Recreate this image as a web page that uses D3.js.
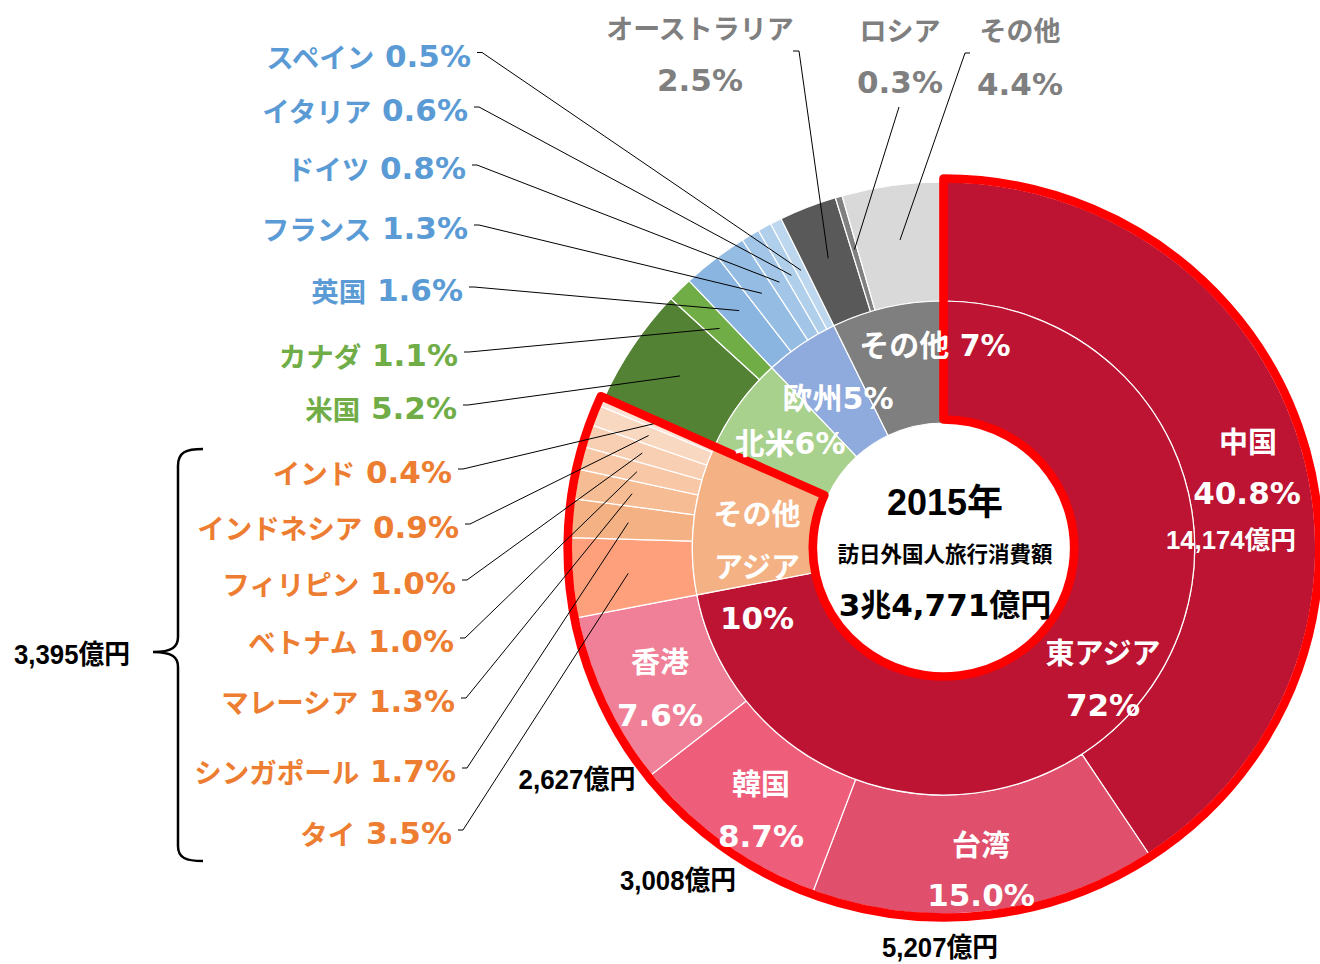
<!DOCTYPE html>
<html><head><meta charset="utf-8">
<script src="https://cdn.jsdelivr.net/npm/d3@7"></script>
<style>body{margin:0;background:#fff}svg{display:block}</style>
</head><body>
<svg id="chart" width="1320" height="964"></svg>
<script>
// ---- data ----
const countries = ["中国","台湾","韓国","香港","タイ","シンガポール","マレーシア","ベトナム","フィリピン","インドネシア","インド","米国","カナダ","英国","フランス","ドイツ","イタリア","スペイン","オーストラリア","ロシア","その他"];
const countryShares = [40.8,15.0,8.7,7.6,3.5,1.7,1.3,1.0,1.0,0.9,0.4,5.2,1.1,1.6,1.3,0.8,0.6,0.5,2.5,0.3,4.4];
const countryRegion = ["東アジア","東アジア","東アジア","東アジア","その他アジア","その他アジア","その他アジア","その他アジア","その他アジア","その他アジア","その他アジア","北米","北米","欧州","欧州","欧州","欧州","欧州","その他","その他","その他"];
const regions = ["東アジア","その他アジア","北米","欧州","その他"];
const regionShares = [72,10,6,5,7];
const amountNames = ["中国","台湾","韓国","香港","その他アジア"];
const amountOku = ["14,174","5,207","3,008","2,627","3,395"];
const totalLabel = "3兆4,771億円";
const yearLabel = "2015年";
const titleLabel = "訪日外国人旅行消費額";

// ---- styles ----
const countryColors = ["#BC1432","#E0506C","#EE5E7B","#F08097","#FFA07C","#F4B183","#F6BD95","#F7C7A6","#F8CFB3","#F9D8C1","#FBE2D3","#548235","#70AD47","#8AB5E0","#95BCE3","#A3C6E8","#B0CFEB","#BDD7EE","#595959","#808080","#D9D9D9"];
const regionColors = ["#BC1432","#F4B183","#A9D18E","#8FAADC","#7F7F7F"];
const regionTextColors = {"東アジア":"#fff","その他アジア":"#ED7D31","北米":"#70AD47","欧州":"#5B9BD5","その他":"#7F7F7F"};

const svg = d3.select("#chart");
const cx = 943.5, cy = 548, sx = 1.017;
const R_HOLE = 125, R_MID = 247, R_OUT = 366, R_LEAD = 311;
const NUMF = "'DejaVu Sans','Noto Sans CJK JP',sans-serif";
const CJKF = "'Noto Sans CJK JP','DejaVu Sans',sans-serif";
const NARROW = "'Liberation Sans Narrow','Liberation Sans','Noto Sans CJK JP',sans-serif";

const pie = d3.pie().sort(null).value(d => d.value);
const outerData = countries.map((n,i) => ({name:n, value:countryShares[i], region:countryRegion[i], color:countryColors[i]}));
const outerArcs = pie(outerData);
const innerData = regions.map((r,i) => ({name:r, value:d3.sum(outerData.filter(d => d.region === r), d => d.value), label:regionShares[i], color:regionColors[i]}));
const innerArcs = pie(innerData);

const arcOuter = d3.arc().innerRadius(R_MID).outerRadius(R_OUT);
const arcInner = d3.arc().innerRadius(R_HOLE).outerRadius(R_MID);
const arcLead = d3.arc().innerRadius(R_LEAD).outerRadius(R_LEAD);

const g = svg.append("g").attr("transform", `translate(${cx},${cy}) scale(${sx},1)`);
g.selectAll("path.outer").data(outerArcs).join("path").attr("class","outer")
  .attr("d", arcOuter).attr("fill", d => d.data.color).attr("stroke","#fff").attr("stroke-width",1.2);
g.selectAll("path.inner").data(innerArcs).join("path").attr("class","inner")
  .attr("d", arcInner).attr("fill", d => d.data.color).attr("stroke","#fff").attr("stroke-width",1.2);

function screen(p){ return [cx + p[0]*sx, cy + p[1]]; }
const byName = {}; outerArcs.forEach(a => byName[a.data.name] = a);

// ---- ring labels (white) ----
function wtext(x, y, str, size, fam, fill){
  return svg.append("text").attr("x",x).attr("y",y).attr("text-anchor","middle")
    .attr("dominant-baseline","central").attr("font-family",fam).attr("font-weight","bold")
    .attr("font-size",size).attr("fill",fill||"#fff").text(str);
}
const pct = v => v.toFixed(1) + "%";
wtext(1248, 440, "中国", 29, CJKF);
wtext(1247, 493, pct(countryShares[0]), 31, NUMF);
wtext(1231, 540, amountOku[0] + "億円", 25, NARROW).attr("textLength",130).attr("lengthAdjust","spacingAndGlyphs");
wtext(981, 843, "台湾", 29, CJKF);
wtext(981, 895, pct(countryShares[1]), 31, NUMF);
wtext(761, 782, "韓国", 29, CJKF);
wtext(761, 836, pct(countryShares[2]), 31, NUMF);
wtext(660, 660, "香港", 29, CJKF);
wtext(660, 715, pct(countryShares[3]), 31, NUMF);
wtext(1103, 651, "東アジア", 29, CJKF);
wtext(1103, 705, regionShares[0] + "%", 31, NUMF);
wtext(757, 512, "その他", 29, CJKF);
wtext(757, 565, "アジア", 29, CJKF);
wtext(757, 618, regionShares[1] + "%", 31, NUMF);
wtext(790, 443, "北米" + regionShares[2] + "%", 30, NUMF);
wtext(838, 398, "欧州" + regionShares[3] + "%", 30, NUMF);
wtext(935, 345, "その他 " + regionShares[4] + "%", 30, NUMF);

// ---- red outline around Asia ----
const asiaEnd = innerArcs[1].endAngle;
g.append("path")
  .attr("d", d3.arc().innerRadius(128.5).outerRadius(369.5).startAngle(0).endAngle(asiaEnd)())
  .attr("fill","none").attr("stroke","#FF0000").attr("stroke-width",8.5).attr("stroke-linejoin","round");

// ---- center ----
wtext(945, 502, yearLabel, 36, "'Liberation Sans','Noto Sans CJK JP',sans-serif", "#000");
wtext(945, 552, titleLabel, 21.5, CJKF, "#000");
wtext(945, 605, totalLabel, 31, NUMF, "#000");

// ---- amount labels (black) ----
function btext(x, y, str, len){
  return wtext(x, y, str, 27, NARROW, "#000").attr("textLength", len).attr("lengthAdjust","spacingAndGlyphs");
}
btext(577, 780, amountOku[3] + "億円", 117);
btext(678, 881, amountOku[2] + "億円", 116);
btext(940, 948, amountOku[1] + "億円", 116);
btext(72, 655, amountOku[4] + "億円", 116);

// ---- side labels with leader lines ----
const sideLabels = [
  {n:"スペイン", x:471, y:55.5},
  {n:"イタリア", x:468, y:110},
  {n:"ドイツ", x:466, y:168},
  {n:"フランス", x:468, y:228},
  {n:"英国", x:463, y:290},
  {n:"カナダ", x:458, y:355},
  {n:"米国", x:457, y:408},
  {n:"インド", x:452, y:472},
  {n:"インドネシア", x:459, y:527},
  {n:"フィリピン", x:456, y:583},
  {n:"ベトナム", x:454, y:641},
  {n:"マレーシア", x:455, y:701},
  {n:"シンガポール", x:456, y:771},
  {n:"タイ", x:452, y:833}
];
const lineG = svg.append("g").attr("fill","none").attr("stroke","#000").attr("stroke-width",1);
sideLabels.forEach(l => {
  const a = byName[l.n];
  const col = regionTextColors[a.data.region];
  const t = svg.append("text").attr("x", l.x).attr("y", l.y).attr("text-anchor","end")
    .attr("dominant-baseline","central").attr("font-weight","bold").attr("fill", col);
  t.append("tspan").attr("font-family", CJKF).attr("font-size", 27.5).text(l.n);
  t.append("tspan").attr("font-family", NUMF).attr("font-size", 31).text(" " + pct(a.data.value));
  const end = screen(arcLead.centroid(a));
  lineG.append("path").attr("d", d3.line()([[l.x + 6, l.y - 3], [l.x + 11, l.y - 3], end]));
});

const topLabels = [
  {n:"オーストラリア", x:700, y1:27, y2:80, line:[[793,51],[799,51]]},
  {n:"ロシア", x:900, y1:29, y2:82, line:[[899,107]]},
  {n:"その他", x:1020, y1:29, y2:84, line:[[970,53],[965,53]]}
];
topLabels.forEach(l => {
  const a = byName[l.n];
  wtext(l.x, l.y1, l.n, 27, CJKF, "#7F7F7F");
  wtext(l.x, l.y2, pct(a.data.value), 31, NUMF, "#7F7F7F");
  const end = screen(arcLead.centroid(a));
  lineG.append("path").attr("d", d3.line()(l.line.concat([end])));
});

// ---- brace for other Asia ----
svg.append("path")
  .attr("d","M203,449 C186,449 178,452 178,466 L178,637 C178,647 172,652 153,652 C172,652 178,657 178,667 L178,846 C178,858 186,861 203,861")
  .attr("fill","none").attr("stroke","#000").attr("stroke-width",2.5);
</script>
</body></html>
